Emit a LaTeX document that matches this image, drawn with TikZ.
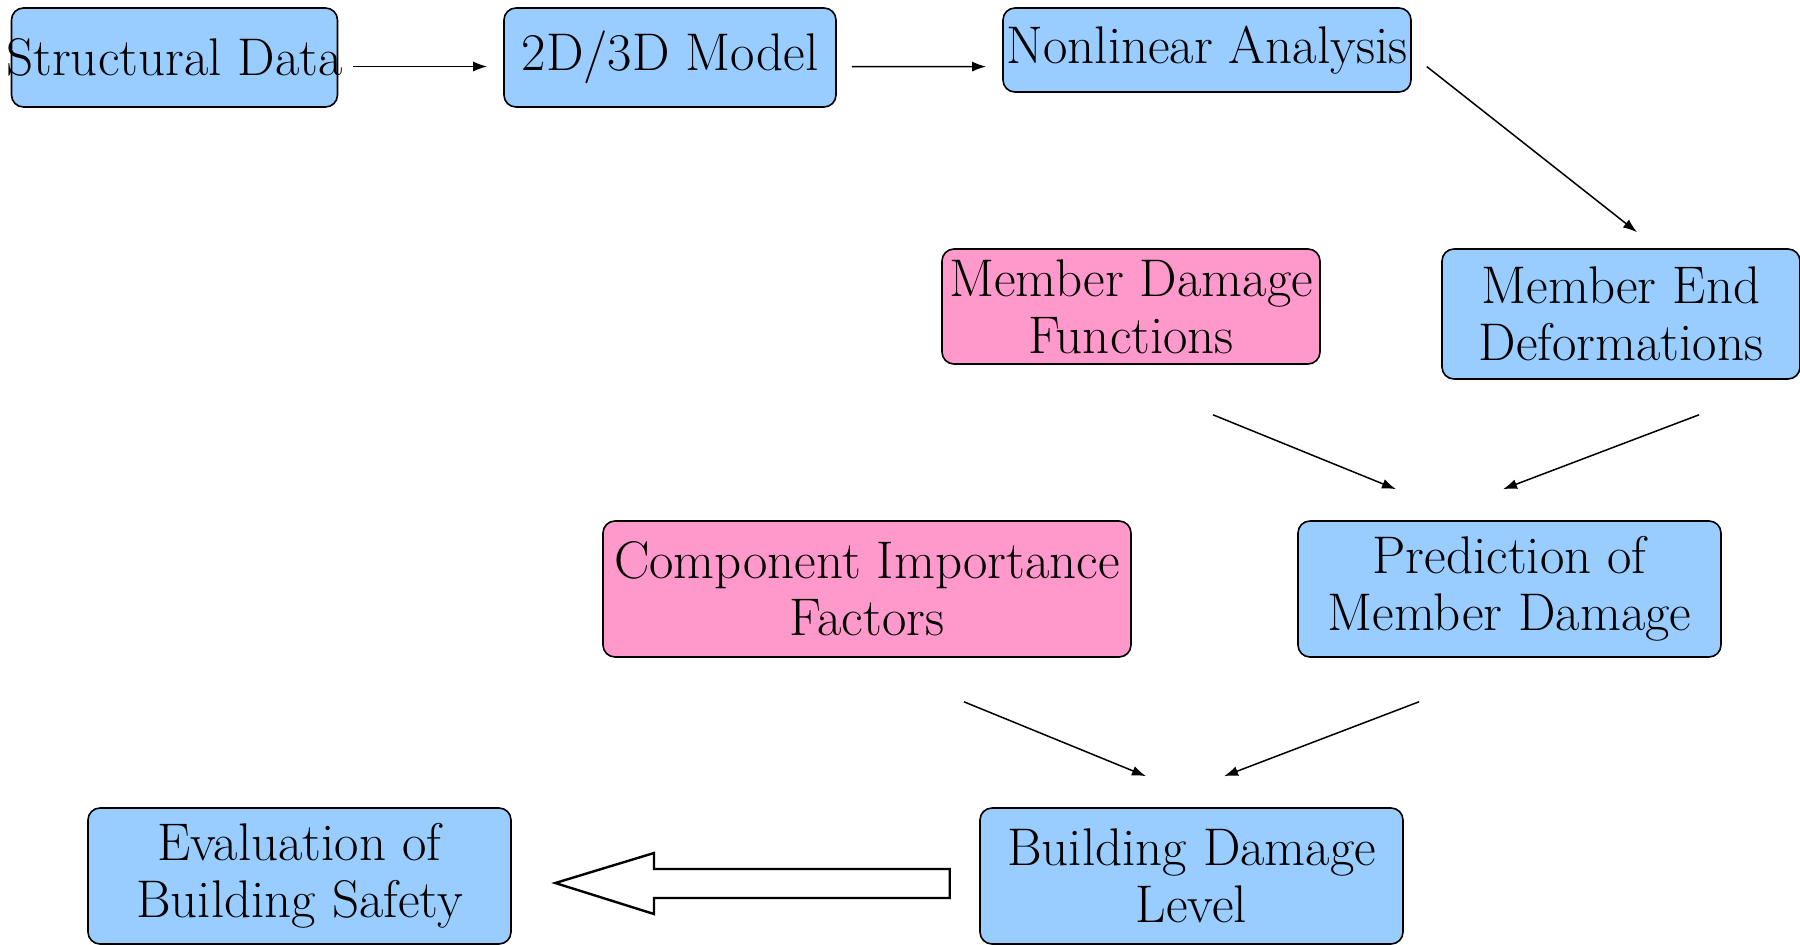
\documentclass[tikz,border=0pt]{standalone}
\usetikzlibrary{calc,arrows.meta}
\definecolor{boxblue}{HTML}{99CCFF}
\definecolor{boxpink}{HTML}{FF99CC}
\begin{document}
\begin{tikzpicture}[x=0.5pt,y=-0.5pt,
  box/.style={draw=black,line width=0.8pt,rounded corners=6pt,align=center,
    inner sep=0pt,font=\fontsize{26.5}{28.5}\selectfont},
  bluebox/.style={box,fill=boxblue},
  pinkbox/.style={box,fill=boxpink},
  arr/.style={-{Latex[length=7pt,width=5pt]},line width=0.75pt},
  bigarrow/.style={draw=black,fill=white,line width=1.2pt}]
\useasboundingbox (0,0) rectangle (1800,944);
\node[bluebox,minimum width=163pt,minimum height=49.5pt] (n1) at (174.5,57.5) {\makebox[0pt]{Structural Data}};
\node[bluebox,minimum width=166pt,minimum height=49.5pt] (n2) at (670,57.5) {2D/3D Model};
\node[bluebox,minimum width=204pt,minimum height=42pt] (n3) at (1207,50) {Nonlinear Analysis};
\node[bluebox,minimum width=179pt,minimum height=65pt] (n4) at (1621,314) {Member End\\Deformations};
\node[pinkbox,minimum width=189pt,minimum height=57.5pt] (n5) at (1131,306.5) {Member Damage\\Functions};
\node[pinkbox,minimum width=264pt,minimum height=68pt] (n6) at (867,589) {Component Importance\\Factors};
\node[bluebox,minimum width=211.5pt,minimum height=68pt] (n7) at (1509.5,589) {Prediction of\\Member Damage};
\node[bluebox,minimum width=211.5pt,minimum height=68pt] (n8) at (299.5,876) {Evaluation of\\Building Safety};
\node[bluebox,minimum width=211.5pt,minimum height=68pt] (n9) at (1191.5,876) {Building Damage\\Level};

\draw[arr] ($(n1.east)+(14.5,9)$) -- ($(n2.west)+(-16,9)$);
\draw[arr] ($(n2.east)+(15,9)$) -- ($(n3.west)+(-16,16.6)$);
\draw[arr] ($(n3.east)+(15,16.6)$) -- ($(n4.north)+(16,-16)$);
\draw[arr] ($(n5.south)+(82,50)$) -- ($(n7.north)+(-113.5,-31)$);
\draw[arr] ($(n4.south)+(78,35)$) -- ($(n7.north)+(-6.5,-31)$);
\draw[arr] ($(n6.south)+(97,44)$) -- ($(n9.north)+(-45.5,-31)$);
\draw[arr] ($(n7.south)+(-90.5,44)$) -- ($(n9.north)+(32.5,-31)$);

\coordinate (tip) at ($(n8.east)+(43.5,7)$);
\coordinate (tail) at ($(n9.west)+(-29.5,7)$);
\draw[bigarrow] (tail |- 0,869) -- (654,869) -- (654,853) -- (tip) -- (654,914) -- (654,898) -- (tail |- 0,898) -- cycle;
\end{tikzpicture}
\end{document}
